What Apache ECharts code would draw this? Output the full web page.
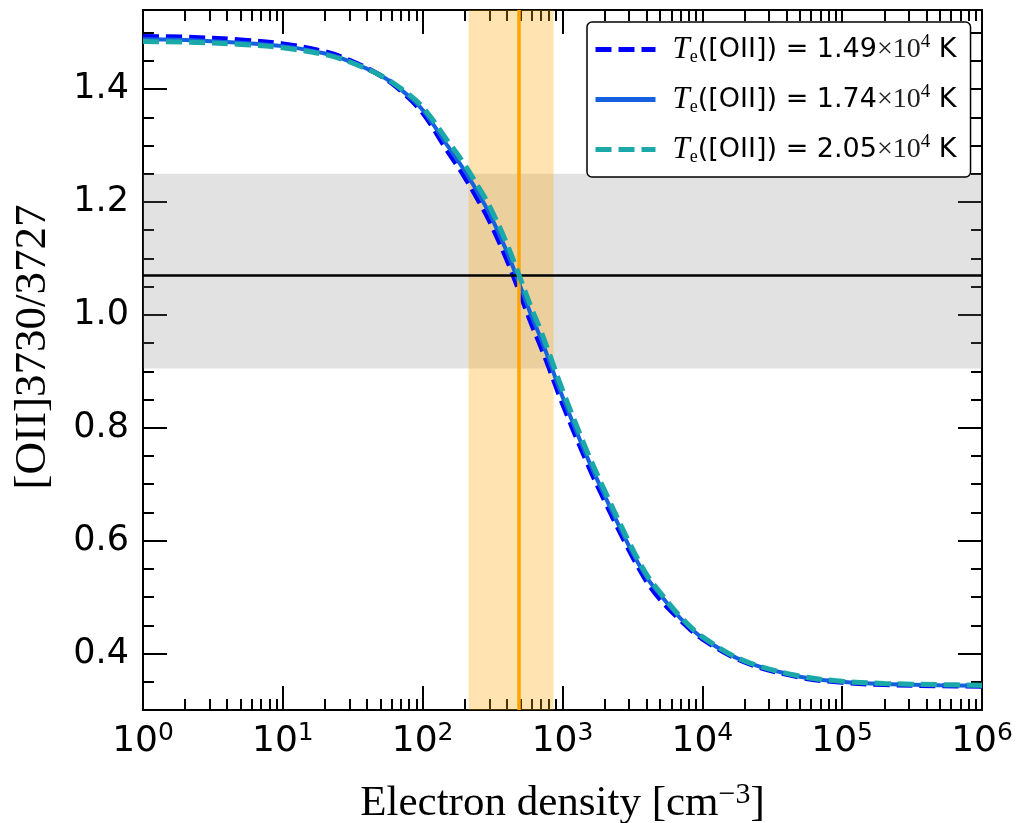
<!DOCTYPE html>
<html>
<head>
<meta charset="utf-8">
<script src="https://cdn.jsdelivr.net/npm/echarts@6/dist/echarts.min.js"></script>
<style>
  html, body { margin: 0; padding: 0; background: #ffffff; }
  #chart { width: 1017px; height: 823px; }
</style>
</head>
<body>
<div id="chart"></div>
<script>
// Electron density grid [cm^-3]
const density = [1, 2, 5, 10, 20, 30, 50, 70, 100, 150, 200, 250, 300, 400, 500, 600, 700, 800,
  1000, 1500, 2000, 3000, 4000, 5000, 7000, 1e4, 2e4, 5e4, 1e5, 2e5, 5e5, 1e6];

// [OII] 3730/3727 line ratio for each electron temperature
const ratioT149 = [1.493, 1.492, 1.487, 1.480, 1.466, 1.451, 1.424, 1.397, 1.358, 1.291, 1.244, 1.203,
  1.167, 1.098, 1.036, 0.984, 0.944, 0.907, 0.843, 0.738, 0.671, 0.583, 0.528, 0.496, 0.459, 0.426,
  0.385, 0.358, 0.349, 0.345, 0.343, 0.342];
const ratioT174 = [1.488, 1.487, 1.482, 1.476, 1.463, 1.449, 1.424, 1.399, 1.363, 1.300, 1.255, 1.215,
  1.180, 1.112, 1.050, 0.998, 0.958, 0.920, 0.855, 0.748, 0.680, 0.590, 0.535, 0.504, 0.462, 0.428,
  0.386, 0.359, 0.350, 0.346, 0.344, 0.343];
const ratioT205 = [1.484, 1.483, 1.479, 1.473, 1.461, 1.448, 1.424, 1.401, 1.368, 1.309, 1.266, 1.227,
  1.193, 1.126, 1.064, 1.012, 0.972, 0.933, 0.867, 0.758, 0.689, 0.597, 0.540, 0.508, 0.465, 0.430,
  0.387, 0.360, 0.351, 0.347, 0.345, 0.344];

// Electron temperatures in units of 10^4 K
const temperatures = ['1.49', '1.74', '2.05'];

// Measured ratio (with 1-sigma range) and derived density (with range)
const ratioMeasured = 1.067;
const ratioRange = [0.905, 1.25];
const densityMeasured = 485;
const densityRange = [213, 863];

// Axis ticks
const xMajorTicks = [1, 10, 100, 1000, 1e4, 1e5, 1e6];
const xMinorTicks = [];
for (let d = 0; d < 6; d++) {
  for (let k = 2; k <= 9; k++) xMinorTicks.push(k * Math.pow(10, d));
}
const yMajorTicks = [0.4, 0.6, 0.8, 1.0, 1.2, 1.4];
const yMinorTicks = [0.35, 0.45, 0.5, 0.55, 0.65, 0.7, 0.75, 0.85, 0.9, 0.95, 1.05, 1.1, 1.15,
  1.25, 1.3, 1.35, 1.45, 1.5];

const SANS = 'DejaVu Sans';
const SERIF = 'Liberation Serif';

const pair = (ys) => density.map((x, i) => [x, ys[i]]);
const names = temperatures.map(t => 'T_e([OII]) = ' + t + '×10^4 K');

const tickStyle = { color: '#000', width: 2 };
const X_MIN = 1, X_MAX = 1e6, Y_MIN = 0.3, Y_MAX = 1.54;

function xAxisDef(position, major) {
  const ax = {
    type: 'log', logBase: 10, min: X_MIN, max: X_MAX, position: position,
    axisLine: { show: false, onZero: false },
    splitLine: { show: false },
    axisTick: { show: true, inside: true, length: major ? 24 : 11, lineStyle: tickStyle,
      customValues: major ? xMajorTicks : xMinorTicks },
    axisLabel: { show: false }
  };
  if (major && position === 'bottom') {
    ax.axisLabel = {
      show: true, customValues: xMajorTicks, margin: 11,
      formatter: v => '{b|10}{s|' + Math.round(Math.log10(v)) + '}',
      rich: {
        b: { fontFamily: SANS, fontSize: 36, color: '#000', lineHeight: 42 },
        s: { fontFamily: SANS, fontSize: 25, color: '#000', verticalAlign: 'top', lineHeight: 26 }
      }
    };
    ax.name = '{t|Electron density [cm}{s|−3}{t|]}';
    ax.nameLocation = 'middle';
    ax.nameGap = 70;
    ax.nameTextStyle = {
      rich: {
        t: { fontFamily: SERIF, fontSize: 43, color: '#000', lineHeight: 48 },
        s: { fontFamily: SERIF, fontSize: 30, color: '#000', verticalAlign: 'top', lineHeight: 30 }
      }
    };
  }
  return ax;
}

function yAxisDef(position, major) {
  const ax = {
    type: 'value', min: Y_MIN, max: Y_MAX, position: position,
    axisLine: { show: false, onZero: false },
    splitLine: { show: false },
    axisTick: { show: true, inside: true, length: major ? 24 : 11, lineStyle: tickStyle,
      customValues: major ? yMajorTicks : yMinorTicks },
    axisLabel: { show: false }
  };
  if (major && position === 'left') {
    ax.axisLabel = {
      show: true, customValues: yMajorTicks, margin: 14,
      formatter: v => v.toFixed(1),
      fontFamily: SANS, fontSize: 35, color: '#000'
    };
    ax.name = '[OII]3730/3727';
    ax.nameLocation = 'middle';
    ax.nameRotate = 90;
    ax.nameGap = 87;
    ax.nameTextStyle = { fontFamily: SERIF, fontSize: 45, color: '#000', padding: [0, 0, 0, 26] };
  }
  return ax;
}

const chart = echarts.init(document.getElementById('chart'), null, { renderer: 'canvas' });

const lineColors = ['#0000ff', '#1560e0', '#1aa8a8'];
const lineData = [ratioT149, ratioT174, ratioT205];
const lineTypes = [[16, 7], 'solid', [16, 7]];
const lineWidths = [5, 4, 5];

const curveSeries = lineData.map((ys, i) => ({
  name: names[i],
  type: 'line',
  data: pair(ys),
  showSymbol: false,
  symbol: 'none',
  smooth: 0.35,
  z: 3 + i,
  lineStyle: { color: lineColors[i], width: lineWidths[i], type: lineTypes[i] },
  itemStyle: { color: lineColors[i] }
}));

const option = {
  animation: false,
  backgroundColor: '#ffffff',
  grid: {
    left: 143, right: 35, top: 10, bottom: 113,
    outerBoundsMode: 'none', containLabel: false,
    show: true, borderColor: '#000', borderWidth: 2, backgroundColor: 'transparent'
  },
  xAxis: [
    xAxisDef('bottom', true), xAxisDef('bottom', false),
    xAxisDef('top', true), xAxisDef('top', false)
  ],
  yAxis: [
    yAxisDef('left', true), yAxisDef('left', false),
    yAxisDef('right', true), yAxisDef('right', false)
  ],
  legend: {
    data: names,
    orient: 'vertical',
    left: 587, top: 22,
    padding: [11, 14, 11, 6],
    itemGap: 17,
    itemWidth: 60,
    itemHeight: 14,
    itemStyle: { opacity: 0 },
    lineStyle: { width: 5 },
    backgroundColor: '#ffffff',
    borderColor: '#000',
    borderWidth: 1.5,
    borderRadius: 5,
    formatter: function (name) {
      const t = temperatures[names.indexOf(name)];
      return '{it|T}{sub|e}{n|([OII]) = ' + t + '}{x|×10}{sup|4}{n| K}';
    },
    textStyle: {
      rich: {
        it: { fontFamily: SERIF, fontStyle: 'italic', fontSize: 31, color: '#000', lineHeight: 33,
          padding: [0, 0, 0, 12] },
        sub: { fontFamily: SERIF, fontSize: 18, color: '#000', verticalAlign: 'bottom', lineHeight: 24 },
        n: { fontFamily: SANS, fontSize: 27, color: '#000', lineHeight: 33 },
        x: { fontFamily: SERIF, fontSize: 28, color: '#222', lineHeight: 33 },
        sup: { fontFamily: SERIF, fontSize: 19, color: '#000', verticalAlign: 'top', lineHeight: 20 }
      }
    }
  },
  series: [
    {
      name: 'bands',
      type: 'line',
      data: [],
      z: 1,
      silent: true,
      markArea: {
        silent: true,
        data: [
          [{ yAxis: ratioRange[0], itemStyle: { color: 'rgba(128,128,128,0.23)' } }, { yAxis: ratioRange[1] }],
          [{ xAxis: densityRange[0], itemStyle: { color: 'rgba(255,165,0,0.30)' } }, { xAxis: densityRange[1] }]
        ]
      }
    },
    ...curveSeries,
    {
      name: 'measured',
      type: 'line',
      data: [],
      z: 10,
      silent: true,
      markLine: {
        silent: true,
        symbol: 'none',
        label: { show: false },
        data: [
          { yAxis: ratioMeasured, lineStyle: { color: '#000', width: 2.5, type: 'solid' } },
          { xAxis: densityMeasured, lineStyle: { color: '#ffa500', width: 3.5, type: 'solid' } }
        ]
      }
    }
  ]
};

chart.setOption(option);
</script>
</body>
</html>
